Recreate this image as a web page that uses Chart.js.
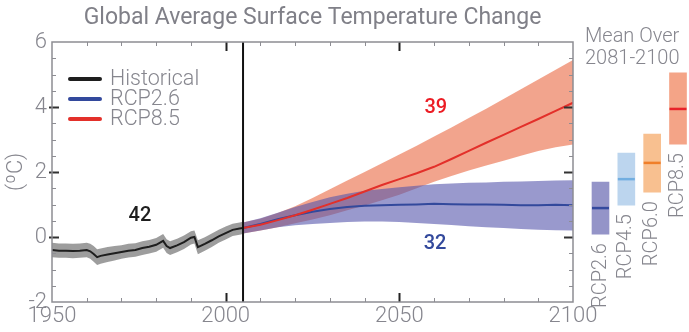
<!DOCTYPE html>
<html>
<head>
<meta charset="utf-8">
<script src="https://cdn.jsdelivr.net/npm/chart.js@4.4.0/dist/chart.umd.min.js"></script>
<style>
  html, body { margin: 0; padding: 0; background: #fff; }
  #wrap { position: relative; width: 689px; height: 332px; overflow: hidden; }
  #wrap canvas { position: absolute; left: 0; top: 0; }
  #means-chart { pointer-events: none; }
</style>
</head>
<body>
<div id="wrap">
  <canvas id="temp-chart" width="689" height="332"></canvas>
  <canvas id="means-chart" width="689" height="332"></canvas>
</div>
<script>
// --- Data ---

const HIST_YEARS = [1950, 1952, 1954, 1956, 1958, 1960, 1961, 1962, 1963, 1964, 1966, 1968, 1970, 1972, 1974, 1976, 1978, 1980, 1982, 1983, 1984, 1986, 1988, 1990, 1991, 1992, 1994, 1996, 1998, 2000, 2002, 2004, 2005];
const HIST_MEAN = [-0.40, -0.42, -0.42, -0.43, -0.42, -0.40, -0.44, -0.52, -0.62, -0.58, -0.54, -0.50, -0.46, -0.42, -0.40, -0.34, -0.30, -0.24, -0.12, -0.28, -0.34, -0.26, -0.16, -0.02, 0.00, -0.31, -0.21, -0.10, 0.02, 0.12, 0.22, 0.26, 0.28];
const HIST_HIGH = [-0.18, -0.20, -0.20, -0.21, -0.20, -0.18, -0.21, -0.28, -0.38, -0.35, -0.31, -0.28, -0.25, -0.21, -0.19, -0.13, -0.09, -0.03, 0.09, -0.07, -0.13, -0.05, 0.05, 0.18, 0.20, -0.10, -0.01, 0.11, 0.22, 0.32, 0.41, 0.45, 0.47];
const HIST_LOW = [-0.62, -0.64, -0.64, -0.65, -0.64, -0.62, -0.67, -0.76, -0.86, -0.82, -0.77, -0.72, -0.67, -0.63, -0.61, -0.55, -0.51, -0.45, -0.33, -0.49, -0.55, -0.47, -0.37, -0.23, -0.20, -0.53, -0.42, -0.31, -0.18, -0.08, 0.03, 0.07, 0.09];

const RCP_YEARS = [2005, 2010, 2015, 2020, 2025, 2030, 2035, 2040, 2045, 2050, 2055, 2060, 2065, 2070, 2075, 2080, 2085, 2090, 2095, 2100];
const RCP26_MEAN = [0.28, 0.40, 0.55, 0.67, 0.78, 0.86, 0.92, 0.96, 0.98, 0.99, 1.00, 1.02, 1.01, 1.00, 1.00, 0.99, 0.98, 0.98, 0.99, 0.98];
const RCP26_HIGH = [0.45, 0.58, 0.75, 0.92, 1.08, 1.22, 1.33, 1.42, 1.48, 1.53, 1.58, 1.62, 1.65, 1.67, 1.68, 1.70, 1.71, 1.72, 1.74, 1.75];
const RCP26_LOW = [0.11, 0.20, 0.30, 0.36, 0.40, 0.43, 0.46, 0.48, 0.48, 0.46, 0.43, 0.40, 0.37, 0.33, 0.30, 0.28, 0.25, 0.22, 0.21, 0.20];
const RCP85_MEAN = [0.28, 0.38, 0.52, 0.67, 0.84, 1.02, 1.20, 1.40, 1.60, 1.78, 1.96, 2.16, 2.40, 2.65, 2.90, 3.14, 3.39, 3.63, 3.88, 4.13];
const RCP85_HIGH = [0.45, 0.56, 0.74, 0.95, 1.20, 1.47, 1.74, 2.00, 2.27, 2.54, 2.81, 3.09, 3.37, 3.66, 3.95, 4.25, 4.55, 4.85, 5.15, 5.45];
const RCP85_LOW = [0.11, 0.20, 0.30, 0.42, 0.54, 0.67, 0.82, 0.97, 1.13, 1.30, 1.50, 1.70, 1.88, 2.05, 2.20, 2.35, 2.50, 2.65, 2.76, 2.85];

// mean over 2081-2100 per scenario
const SCENARIOS = ["RCP2.6", "RCP4.5", "RCP6.0", "RCP8.5"];
const SCEN_LOW = [0.09, 0.98, 1.38, 2.86];
const SCEN_HIGH = [1.69, 2.58, 3.17, 5.05];
const SCEN_MEAN = [0.89, 1.78, 2.28, 3.94];

const X_TICKS = [1950, 2000, 2050, 2100];
const Y_TICKS = [-2, 0, 2, 4, 6];
const LEGEND_LABELS = ["Historical", "RCP2.6", "RCP8.5"];
const ANNOTATIONS = ["42", "39", "32"];

// --- Styling ---
const FONT = "Roboto, 'Open Sans', sans-serif";
const GREY_TEXT = "#86868e";
const AXIS_GREY = "#8d8d93";
const HIST_COLOR = "#1e1e1e";
const BLUE = "#33499c";
const RED = "#e3302a";
const LEGEND_COLORS = [HIST_COLOR, BLUE, RED];
const SCEN_FILL = ["#9494c8", "#bcd5ee", "#f8c090", "#f4a487"];
const SCEN_LINE = ["#34499e", "#72aee0", "#f07f2a", "#e8232a"];

const toPoints = (xs, ys) => xs.map((x, i) => ({ x, y: ys[i] }));

// --- Main panel extras: frame, inward ticks, legend, counts ---
const framePlugin = {
  id: "frame",
  afterDatasetsDraw(chart) {
    const { ctx, chartArea: a, scales: { x, y } } = chart;
    ctx.save();

    // minor/major ticks along top & bottom
    for (let yr = 1960; yr < 2100; yr += 10) {
      const px = Math.round(x.getPixelForValue(yr)) + 0.5;
      const major = yr % 50 === 0;
      ctx.strokeStyle = major ? "#222" : AXIS_GREY;
      ctx.lineWidth = major ? 2 : 1;
      const len = major ? 9 : 4;
      ctx.beginPath();
      ctx.moveTo(px, a.bottom); ctx.lineTo(px, a.bottom - len);
      ctx.moveTo(px, a.top); ctx.lineTo(px, a.top + len);
      ctx.stroke();
    }
    // left & right ticks every half degree
    for (let v = -1.5; v < 6; v += 0.5) {
      const py = Math.round(y.getPixelForValue(v)) + 0.5;
      const major = v % 2 === 0;
      ctx.strokeStyle = major ? "#333" : AXIS_GREY;
      ctx.lineWidth = major ? 2 : 1;
      ctx.beginPath();
      ctx.moveTo(a.left - (major ? 3 : 0), py); ctx.lineTo(a.left + (major ? 7 : 4), py);
      ctx.moveTo(a.right, py); ctx.lineTo(a.right - (major ? 9 : 4), py);
      ctx.stroke();
    }

    ctx.strokeStyle = AXIS_GREY;
    ctx.lineWidth = 1.5;
    ctx.strokeRect(a.left, a.top, a.right - a.left, a.bottom - a.top);

    // legend
    ctx.font = `300 21.5px ${FONT}`;
    ctx.textBaseline = "middle";
    ctx.textAlign = "left";
    LEGEND_LABELS.forEach((label, i) => {
      const ly = a.top + 37 + i * 20;
      ctx.strokeStyle = LEGEND_COLORS[i];
      ctx.lineWidth = 4;
      ctx.lineCap = "round";
      ctx.beginPath();
      ctx.moveTo(a.left + 18, ly); ctx.lineTo(a.left + 48, ly);
      ctx.stroke();
      ctx.fillStyle = GREY_TEXT;
      ctx.fillText(label, a.left + 58, ly + 1);
    });

    // model counts
    ctx.font = `500 20px ${FONT}`;
    ctx.textAlign = "center";
    const spots = [[1975.3, 0.65, HIST_COLOR], [2060.5, 3.97, "#ec1c24"], [2060.3, -0.2, BLUE]];
    ANNOTATIONS.forEach((txt, i) => {
      ctx.fillStyle = spots[i][2];
      ctx.fillText(txt, x.getPixelForValue(spots[i][0]), y.getPixelForValue(spots[i][1]));
    });
    ctx.restore();
  }
};

const band = (xs, ys) => ({
  data: toPoints(xs, ys), borderWidth: 0, pointRadius: 0, fill: false
});

const tickFont = { family: FONT, size: 22, weight: 300 };

new Chart(document.getElementById("temp-chart"), {
  type: "line",
  data: {
    datasets: [
      { data: toPoints(HIST_YEARS, HIST_MEAN), borderColor: HIST_COLOR, borderWidth: 2, order: 2 },
      { data: toPoints(RCP_YEARS, RCP85_MEAN), borderColor: RED, borderWidth: 2, order: 1 },
      { data: toPoints(RCP_YEARS, RCP26_MEAN), borderColor: BLUE, borderWidth: 2, order: 3 },
      // end of historical period
      { data: [{ x: HIST_YEARS[HIST_YEARS.length - 1], y: Y_TICKS[0] }, { x: HIST_YEARS[HIST_YEARS.length - 1], y: Y_TICKS[Y_TICKS.length - 1] }],
        borderColor: "#111", borderWidth: 2, order: 0 },
      { ...band(HIST_YEARS, HIST_LOW), order: 30 },
      { ...band(HIST_YEARS, HIST_HIGH), fill: { target: 4 }, backgroundColor: "rgba(110,110,110,0.68)", order: 29 },
      { ...band(RCP_YEARS, RCP85_LOW), order: 28 },
      { ...band(RCP_YEARS, RCP85_HIGH), fill: { target: 6 }, backgroundColor: "rgba(235,115,80,0.65)", order: 27 },
      { ...band(RCP_YEARS, RCP26_LOW), order: 26 },
      { ...band(RCP_YEARS, RCP26_HIGH), fill: { target: 8 }, backgroundColor: "rgba(85,85,172,0.6)", order: 25 }
    ]
  },
  options: {
    responsive: false,
    animation: false,
    events: [],
    layout: { padding: { right: 116 } },
    elements: { point: { radius: 0 }, line: { tension: 0 } },
    scales: {
      x: {
        type: "linear", min: 1950, max: 2100,
        afterBuildTicks: (s) => { s.ticks = X_TICKS.map((v) => ({ value: v })); },
        grid: { display: false, drawTicks: false },
        border: { display: false },
        ticks: { color: GREY_TEXT, font: tickFont, padding: 1, maxRotation: 0, autoSkip: false, callback: (v) => String(v) },
        afterFit: (s) => { s.height = 30; }
      },
      y: {
        type: "linear", min: -2, max: 6,
        afterBuildTicks: (s) => { s.ticks = Y_TICKS.map((v) => ({ value: v })); },
        grid: { display: false, drawTicks: false },
        border: { display: false },
        ticks: { color: GREY_TEXT, font: tickFont, padding: 5, callback: (v) => String(v) },
        title: { display: true, text: "(ºC)", color: GREY_TEXT, font: tickFont, padding: { top: 3, bottom: 0 } },
        afterFit: (s) => { s.width = 52; }
      }
    },
    plugins: {
      legend: { display: false },
      tooltip: { enabled: false },
      title: {
        display: true, fullSize: false,
        text: "Global Average Surface Temperature Change",
        color: "#808088",
        font: { family: FONT, size: 23, weight: 400, lineHeight: 1.2 },
        padding: { top: 4, bottom: 10.4 }
      }
    }
  },
  plugins: [framePlugin]
});

// --- Right panel: 2081-2100 means ---
const scenarioLabels = {
  id: "scenarioLabels",
  afterDatasetsDraw(chart) {
    const { ctx } = chart;
    const y = chart.scales.y;
    const bars = chart.getDatasetMeta(1).data;
    ctx.save();
    ctx.fillStyle = GREY_TEXT;
    ctx.font = `300 20px ${FONT}`;
    ctx.textAlign = "left";
    ctx.textBaseline = "alphabetic";
    ctx.fillText("Mean Over", 585, 42);
    ctx.fillText("2081-2100", 585, 64);

    ctx.textAlign = "right";
    ctx.textBaseline = "middle";
    bars.forEach((bar, i) => {
      ctx.save();
      ctx.translate(bar.x, y.getPixelForValue(SCEN_LOW[i]) + 9);
      ctx.rotate(-Math.PI / 2);
      ctx.fillText(SCENARIOS[i], 0, 0);
      ctx.restore();
    });
    ctx.restore();
  }
};

new Chart(document.getElementById("means-chart"), {
  type: "bar",
  data: {
    labels: SCENARIOS,
    datasets: [
      { type: "line", data: SCEN_MEAN, showLine: false, pointStyle: "line", pointRadius: 8.5,
        pointBorderWidth: 2.5, pointBorderColor: SCEN_LINE, clip: false, order: 0 },
      { data: SCEN_LOW.map((lo, i) => [lo, SCEN_HIGH[i]]), backgroundColor: SCEN_FILL,
        barThickness: 17, clip: false, order: 1 }
    ]
  },
  options: {
    responsive: false,
    animation: false,
    events: [],
    layout: { padding: { left: 600.5, right: 6.5, top: 42, bottom: 30 } },
    scales: {
      x: { display: false, offset: false },
      y: { display: false, min: -2, max: 6 }
    },
    plugins: { legend: { display: false }, tooltip: { enabled: false } }
  },
  plugins: [scenarioLabels]
});
</script>
</body>
</html>
